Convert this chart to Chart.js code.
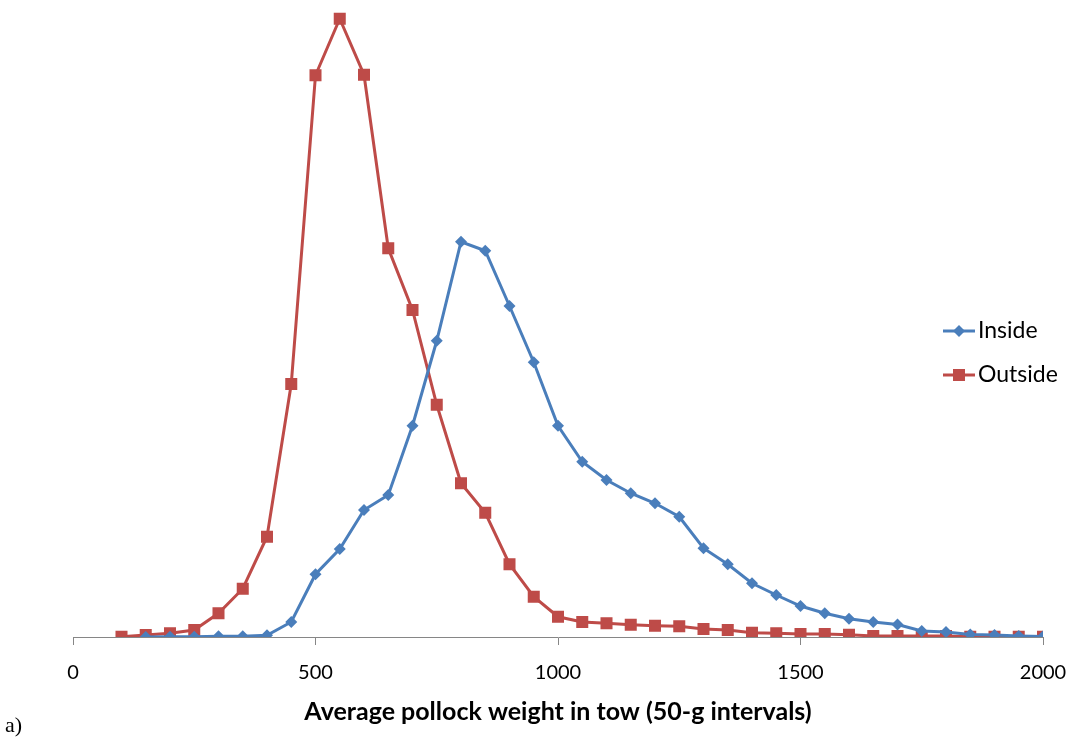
<!DOCTYPE html>
<html>
<head>
<meta charset="utf-8">
<script src="https://cdn.jsdelivr.net/npm/chart.js@4"></script>
<style>
  html, body { margin: 0; padding: 0; background: #fff; }
  canvas { display: block; }
</style>
</head>
<body>
<canvas id="myChart" width="1076" height="740"></canvas>
<script>
// average pollock weight classes (g), 50-g intervals
const weights = [100, 150, 200, 250, 300, 350, 400, 450, 500, 550, 600, 650, 700, 750, 800, 850, 900, 950, 1000,
  1050, 1100, 1150, 1200, 1250, 1300, 1350, 1400, 1450, 1500, 1550, 1600, 1650, 1700, 1750, 1800, 1850, 1900, 1950, 2000];

const inside = [null, 0, 0.01, 0.01, 0.03, 0.03, 0.07, 0.6, 2.51, 3.52, 5.08, 5.68, 8.45, 11.85, 15.81, 15.45, 13.24, 10.99, 8.45,
  7.01, 6.28, 5.75, 5.35, 4.81, 3.55, 2.91, 2.15, 1.68, 1.24, 0.95, 0.73, 0.6, 0.5, 0.24, 0.2, 0.1, 0.08, 0.04, 0.02];

const outside = [0.01, 0.08, 0.15, 0.28, 0.95, 1.93, 4.01, 10.12, 22.47, 24.73, 22.49, 15.55, 13.08, 9.29, 6.15, 4.97, 2.91, 1.61, 0.81,
  0.6, 0.55, 0.49, 0.45, 0.43, 0.32, 0.28, 0.17, 0.15, 0.12, 0.12, 0.09, 0.04, 0.04, 0.04, 0.04, 0.01, 0.01, 0.01, 0.01];

const xTicks = [0, 500, 1000, 1500, 2000];

function toPoints(vals) {
  const pts = [];
  for (let i = 0; i < weights.length; i++) {
    if (vals[i] !== null) pts.push({ x: weights[i], y: vals[i] });
  }
  return pts;
}

// legend drawn over the plot, like the original
const sideLegend = {
  id: 'sideLegend',
  afterDraw(chart) {
    const ctx = chart.ctx;
    const rows = [331, 375];
    ctx.save();
    chart.data.datasets.forEach((ds, i) => {
      const y = rows[i];
      ctx.strokeStyle = ds.borderColor;
      ctx.lineWidth = 3;
      ctx.beginPath();
      ctx.moveTo(943, y);
      ctx.lineTo(975, y);
      ctx.stroke();
      ctx.fillStyle = ds.backgroundColor;
      Chart.helpers.drawPoint(ctx, { pointStyle: ds.pointStyle, radius: ds.pointRadius, borderWidth: 0 }, 959, y);
      ctx.fillStyle = '#000';
      ctx.font = '23px Lato';
      ctx.textBaseline = 'middle';
      ctx.fillText(ds.label, 978, y);
    });
    ctx.font = '22px "Liberation Serif"';
    ctx.textBaseline = 'middle';
    ctx.fillText('a)', 5, 726);
    ctx.restore();
  }
};

const ctx = document.getElementById('myChart');
new Chart(ctx, {
  type: 'line',
  data: {
    datasets: [{
      label: 'Inside',
      data: toPoints(inside),
      borderColor: '#4A7EBB',
      backgroundColor: '#4A7EBB',
      borderWidth: 3,
      pointStyle: 'rectRot',
      pointRadius: 6,
      pointBorderWidth: 0,
      tension: 0
    }, {
      label: 'Outside',
      data: toPoints(outside),
      borderColor: '#BE4B48',
      backgroundColor: '#BE4B48',
      borderWidth: 3,
      pointStyle: 'rect',
      pointRadius: 8.5,
      pointBorderWidth: 0,
      tension: 0
    }]
  },
  options: {
    responsive: false,
    animation: false,
    layout: { padding: { left: 73, right: 33, top: 12, bottom: 0 } },
    plugins: {
      legend: { display: false },
      tooltip: { enabled: false }
    },
    scales: {
      x: {
        type: 'linear',
        min: 0,
        max: 2000,
        afterBuildTicks: (scale) => { scale.ticks = xTicks.map(v => ({ value: v })); },
        afterFit: (scale) => {
          scale.height = 103;
          scale.paddingLeft = 0;
          scale.paddingRight = 0;
        },
        grid: { display: true, drawOnChartArea: false, drawTicks: true, tickLength: 8, color: '#868686' },
        border: { display: true, color: '#868686', width: 1 },
        ticks: {
          color: '#000',
          font: { family: 'Lato', size: 20 },
          padding: 16,
          maxRotation: 0,
          callback: (value) => String(value)
        },
        title: {
          display: true,
          text: 'Average pollock weight in tow (50-g intervals)',
          color: '#000',
          font: { family: 'Lato', size: 25, weight: 'bold' },
          padding: { top: 0, bottom: 13 }
        }
      },
      y: {
        display: false,
        min: 0,
        max: 25
      }
    }
  },
  plugins: [sideLegend]
});
</script>
</body>
</html>
